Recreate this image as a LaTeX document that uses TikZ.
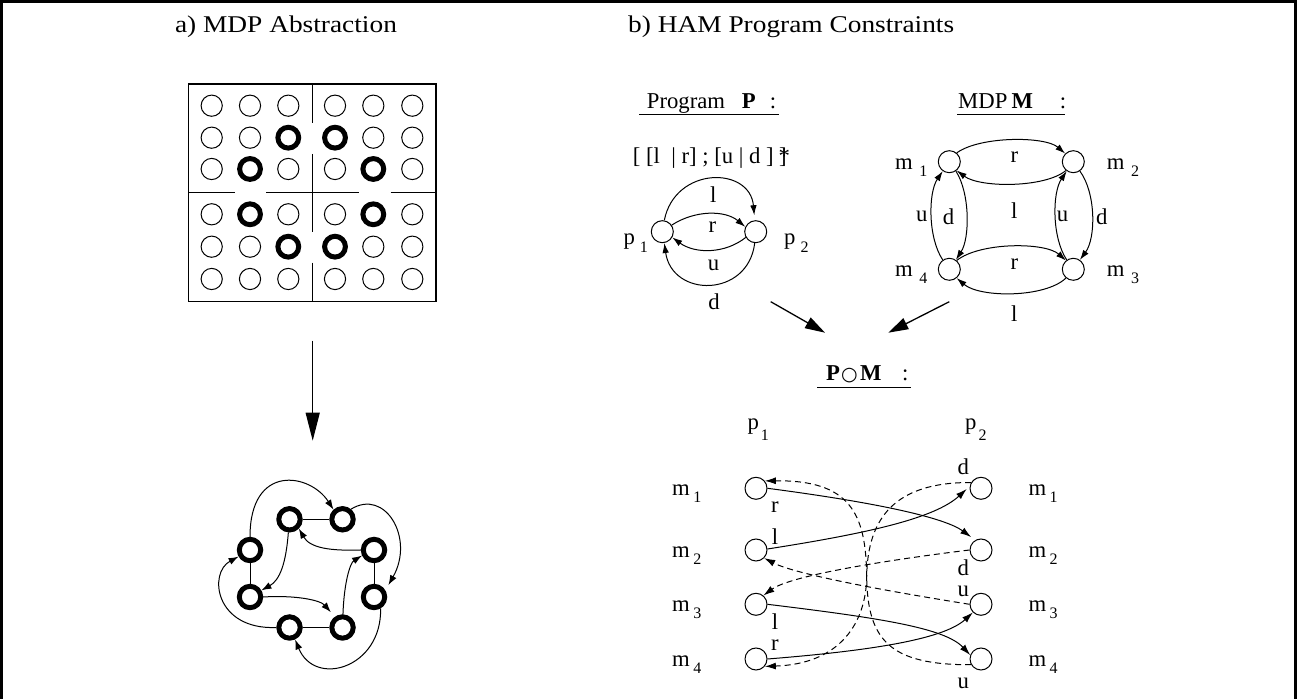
\documentclass[tikz,border=0pt]{standalone}
\usepackage{fontspec}
\setmainfont{Liberation Serif}
\newfontfamily\titlefont{Liberation Serif}[FakeStretch=1.14]
\newfontfamily\symfont{DejaVu Sans}
\usetikzlibrary{arrows.meta}
\newcommand{\sublab}[4]{#1\hspace*{#3}\raisebox{-#4}{\fontsize{16}{16}\selectfont #2}}
\begin{document}
\begin{tikzpicture}[x=1pt,y=1pt,
  every node/.style={inner sep=0pt},
  font=\fontsize{22.7}{27}\selectfont,
  thinline/.style={line width=1pt},
  wall/.style={line width=1.3pt},
  circ/.style={circle, draw, line width=1pt, minimum size=22pt},
  bcirc/.style={circle, draw, line width=5pt, minimum size=21.4pt},
  sarr/.style={line width=1pt, -{Latex[length=10pt,width=7pt]}},
  arr/.style={line width=1pt, -{Latex[length=10pt,width=6.5pt]}},
  carr/.style={line width=1pt, -{Latex[length=11pt,width=7pt]}},
  darr/.style={carr, dash pattern=on 6pt off 4pt},
  bigarr/.style={line width=1.3pt, -{Triangle[length=20pt,width=12pt]}},
  downarr/.style={line width=1.3pt, -{Triangle[length=28pt,width=14pt]}},
  lab/.style={anchor=base west},
  elab/.style={anchor=center}
]
\useasboundingbox (0,0) rectangle (1297,698);
% frame
\draw[line width=3pt] (1.5,-10) -- (1.5,696.5) -- (1295.5,696.5) -- (1295.5,-10);

% titles
\node[anchor=base, font=\titlefont\fontsize{24}{28}\selectfont] (ta) at (286,665) {a) MDP Abstraction};
\node[anchor=base west, font=\titlefont\fontsize{24}{28}\selectfont] (tb) at (628,665) {b) HAM Program Constraints};

% ---------- grid ----------
\draw[wall] (188.3,614) rectangle (436,396.3);
\draw[wall] (312.7,614) -- (312.7,575.3);
\draw[wall] (312.7,544) -- (312.7,466.3);
\draw[wall] (312.7,435.3) -- (312.7,396.3);
\draw[wall] (188.3,505.3) -- (235,505.3);
\draw[wall] (266,505.3) -- (359.3,505.3);
\draw[wall] (390.7,505.3) -- (436,505.3);
\foreach \cx in {211.7,250,288.3,335,373.3,412.3}
  \foreach \cy in {592.3,560.3,529,483.7,451.3,419}
    {\draw[thinline] (\cx,\cy) circle[radius=10.6pt];}
\foreach \cx/\cy in {288.3/560.3,335/560.3,250/529,373.3/529,250/483.7,373.3/483.7,288.3/451.3,335/451.3}
    {\draw[line width=5pt] (\cx,\cy) circle[radius=10.4pt];}

% down arrow
\coordinate (dTop) at (312.7,357.3);
\coordinate (dBot) at (312.7,257.3);
\draw[downarr] (dTop) -- (dBot);

% ---------- abstract graph ----------
\node[bcirc] (A) at (289.5,178.7) {};
\node[bcirc] (B) at (342.5,178.7) {};
\node[bcirc] (C) at (250,148) {};
\node[bcirc] (D) at (374,148) {};
\node[bcirc] (E) at (250,101) {};
\node[bcirc] (F) at (374,101) {};
\node[bcirc] (G) at (289.5,70.5) {};
\node[bcirc] (H) at (342.5,70.5) {};
\draw[thinline] (A) -- (B);
\draw[thinline] (C) -- (E);
\draw[thinline] (D) -- (F);
\draw[thinline] (G) -- (H);
\draw[sarr] (C.90) .. controls (250,235) and (310,225) .. (B.133);
\draw[sarr, shorten >=6pt] (B.50) .. controls (385,210) and (415,160) .. (F.30);
\draw[sarr] (F.-60) .. controls (382,30) and (315,10) .. (G.-65);
\draw[sarr] (G.180) .. controls (215,68) and (208,125) .. (C.210);
\draw[sarr] (A.-95) .. controls (286,135) and (280,118) .. (E.30);
\draw[sarr, shorten >=6pt] (E.0) .. controls (295,103) and (320,98) .. (H.125);
\draw[sarr] (H.88) .. controls (344,115) and (350,135) .. (D.205);
\draw[sarr] (D.180) .. controls (330,147) and (310,150) .. (A.-45);

% ---------- Program P ----------
\node[lab] (hprog) at (646.7,589.7) {Program};
\node[lab] (hprogP) at (741.7,589.7) {\textbf{P}};
\node[lab] (hprogc) at (769.7,589.7) {:};
\draw[thinline] (639.3,583.3) -- (779,583.3);
\node[lab] (regex) at (632.7,534.7) {[ [l\ \ | r] ; [u | d ]\,\rlap{\hspace{1pt}*}\hspace{1.5pt}]};

\node[circ] (p1) at (662.3,466.3) {};
\node[circ] (p2) at (755.7,466.3) {};
\node[lab] (p1lab) at (623.3,453) {\sublab{p}{1}{5pt}{8pt}};
\node[lab] (p2lab) at (784,453) {\sublab{p}{2}{5pt}{8pt}};
\draw[arr, shorten >=5pt] (p1.80) .. controls (675,532) and (750,532) .. (p2.95);
\draw[arr] (p1.35) .. controls (695,488) and (725,488) .. (p2.155);
\draw[arr] (p2.-150) .. controls (725,444) and (695,444) .. (p1.-30);
\draw[arr] (p2.-95) .. controls (748,400) and (672,400) .. (p1.-80);
\node[elab] (pl) at (713.3,503) {l};
\node[elab] (pr) at (712.3,471.3) {r};
\node[elab] (pu) at (713.5,432.5) {u};
\node[elab] (pd) at (714,396) {d};

% ---------- MDP M ----------
\node[lab] (hmdp) at (958,589.7) {MDP};
\node[lab] (hmdpM) at (1011.5,589.7) {\textbf{M}};
\node[lab] (hmdpc) at (1059.7,589.7) {:};
\draw[thinline] (957.3,583.5) -- (1065,583.5);

\node[circ] (m1) at (949.3,536.3) {};
\node[circ] (m2) at (1073.3,536.3) {};
\node[circ] (m4) at (949.3,428.7) {};
\node[circ] (m3) at (1073.3,428.7) {};
\node[lab] (m1lab) at (895,528) {\sublab{m}{1}{6.5pt}{7pt}};
\node[lab] (m2lab) at (1106.7,528) {\sublab{m}{2}{6.5pt}{7pt}};
\node[lab] (m4lab) at (895,421.3) {\sublab{m}{4}{6.5pt}{7pt}};
\node[lab] (m3lab) at (1106.7,421.3) {\sublab{m}{3}{6.5pt}{7pt}};
\draw[arr] (m1.50) .. controls (980,562) and (1045,562) .. (m2.135);
\draw[arr] (m2.-130) .. controls (1045,510) and (980,510) .. (m1.-50);
\draw[arr] (m4.125) .. controls (928,460) and (928,505) .. (m1.-125);
\draw[arr] (m1.-55) .. controls (970,505) and (970,460) .. (m4.55);
\draw[arr] (m3.125) .. controls (1052,460) and (1052,505) .. (m2.-125);
\draw[arr] (m2.-55) .. controls (1096,505) and (1096,460) .. (m3.55);
\draw[arr] (m4.50) .. controls (980,456) and (1045,456) .. (m3.130);
\draw[arr] (m3.-130) .. controls (1045,400) and (980,400) .. (m4.-50);
\node[elab] (mr1) at (1014.3,541.3) {r};
\node[elab] (ml1) at (1014.3,487.5) {l};
\node[elab] (mu1) at (921.7,481.3) {u};
\node[elab] (md1) at (948.5,481.3) {d};
\node[elab] (mu2) at (1062.5,481.3) {u};
\node[elab] (md2) at (1101.7,481.3) {d};
\node[elab] (mr2) at (1014.5,434) {r};
\node[elab] (ml2) at (1014.3,384.5) {l};

% ---------- converging arrows ----------
\coordinate (ca1) at (770.7,396.3);
\coordinate (ca2) at (825,365.3);
\coordinate (cb1) at (949.3,396.3);
\coordinate (cb2) at (888.3,365.3);
\draw[bigarr] (ca1) -- (ca2);
\draw[bigarr] (cb1) -- (cb2);

% ---------- P o M ----------
\node[lab] (pmP) at (826,317.3) {\textbf{P}};
\node[anchor=base] (pmC) at (849.5,317.3) {\symfont\fontsize{19}{19}\selectfont ○};
\node[lab] (pmM) at (859.8,317.3) {\textbf{M}};
\node[lab] (pmc) at (902,317.3) {:};
\draw[thinline] (817.3,310.7) -- (910.7,310.7);
\node[lab] (cp1) at (747.3,268) {\sublab{p}{1}{2pt}{11pt}};
\node[lab] (cp2) at (965,268) {\sublab{p}{2}{2pt}{11pt}};

\node[circ] (L1) at (756,209.7) {};
\node[circ] (L2) at (756,148) {};
\node[circ] (L3) at (756,93.7) {};
\node[circ] (L4) at (756,39) {};
\node[circ] (R1) at (981,209.7) {};
\node[circ] (R2) at (981,148) {};
\node[circ] (R3) at (981,93.7) {};
\node[circ] (R4) at (981,39) {};
\foreach \k/\yy in {1/209.7,2/148,3/93.7,4/39}{
  \node[lab] (lm\k) at (672,\yy-7.7) {\sublab{m}{\k}{3.5pt}{7pt}};
  \node[lab] (rm\k) at (1028.3,\yy-7.7) {\sublab{m}{\k}{3.5pt}{7pt}};
}
% solid
\draw[carr, shorten >=5pt] (L1.0) .. controls (880,195) and (945,180) .. (R2.120);
\draw[carr, shorten >=4pt] (L2.5) .. controls (870,165) and (935,180) .. (R1.170);
\draw[carr] (L3.0) .. controls (880,80) and (945,70) .. (R4.160);
\draw[carr] (L4.0) .. controls (880,48) and (945,60) .. (R3.-135);
% dashed
\draw[darr] (R4.-150) .. controls (890,33) and (867.4,57.6) .. (866.7,121.3) .. controls (866,185) and (850,218) .. (L1.40);
\draw[darr] (R1.150) .. controls (895,216) and (867.4,180) .. (866.7,121.3) .. controls (866,75) and (840,34) .. (L4.-40);
\draw[darr] (R2.180) .. controls (880,137) and (790,122) .. (L3.50);
\draw[darr] (R3.180) .. controls (880,108) and (795,124) .. (L2.-45);
% labels
\node[elab] (clr1) at (775,191.3) {r};
\node[elab] (cll2) at (775,161.3) {l};
\node[elab] (cll3) at (775,76.3) {l};
\node[elab] (clr4) at (775,53) {r};
\node[elab] (crd1) at (963.3,231.3) {d};
\node[elab] (crd2) at (963.3,130.5) {d};
\node[elab] (cru3) at (963.3,106.7) {u};
\node[elab] (cru4) at (963.3,14.7) {u};
\end{tikzpicture}
\end{document}
